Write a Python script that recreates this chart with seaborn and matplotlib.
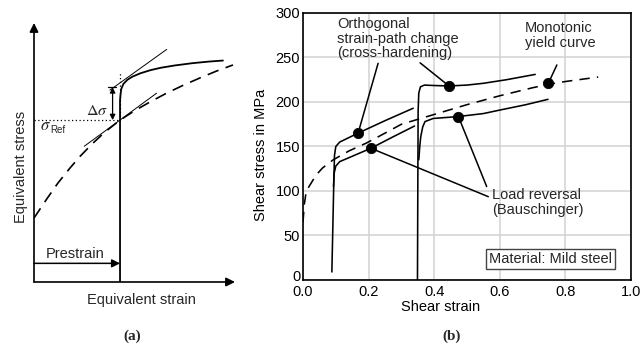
import matplotlib
matplotlib.use('Agg')
import matplotlib.pyplot as plt
import matplotlib.transforms as mtransforms
import seaborn as sns

sns.set_theme(style='whitegrid')
plt.rcParams['font.family'] = ['Liberation Sans', 'DejaVu Sans']
plt.rcParams['mathtext.fontset'] = 'stix'

# ---- panel (a): schematic, axes-fraction coordinates ----
mono_a_x = [0.0, 0.063, 0.119, 0.179, 0.229, 0.289, 0.353, 0.428, 0.502, 0.577, 0.657, 0.741, 0.826, 0.910, 0.990]
mono_a_y = [0.247, 0.320, 0.382, 0.440, 0.485, 0.533, 0.579, 0.625, 0.662, 0.695, 0.728, 0.759, 0.788, 0.815, 0.838]
reload_a_x = [0.428, 0.428, 0.430, 0.434, 0.445, 0.465, 0.49, 0.53, 0.58, 0.63, 0.70, 0.79, 0.87, 0.94]
reload_a_y = [0.0, 0.70, 0.72, 0.745, 0.765, 0.781, 0.793, 0.806, 0.818, 0.827, 0.836, 0.845, 0.851, 0.855]
prestrain_a = 0.428
sigma_ref_a = 0.625
sigma_top_a = 0.752

# ---- panel (b): shear stress vs shear strain ----
mono_x = [0.0, 0.004, 0.01, 0.02, 0.04, 0.06, 0.092, 0.14, 0.194, 0.25, 0.3, 0.4, 0.5, 0.6, 0.7, 0.75, 0.8, 0.9]
mono_y = [65, 85, 100, 106, 118, 126, 135, 145, 154, 165, 175, 186, 197, 207, 216, 220, 223, 228]

cross1_x = [0.088, 0.091, 0.094, 0.096, 0.1, 0.112, 0.168, 0.25, 0.336]
cross1_y = [9, 60, 112, 140, 150, 155, 165, 179, 193]
rev1_x = [0.093, 0.095, 0.1, 0.112, 0.15, 0.207, 0.27, 0.34]
rev1_y = [105, 120, 128, 133, 139, 148, 160, 173]

cross2_x = [0.349, 0.35, 0.351, 0.353, 0.358, 0.37, 0.4, 0.445, 0.5, 0.55, 0.62, 0.708]
cross2_y = [0, 100, 190, 210, 217, 219, 218.5, 218, 219, 221, 225, 231]
rev2_x = [0.353, 0.356, 0.359, 0.365, 0.372, 0.397, 0.47, 0.55, 0.601, 0.68, 0.747]
rev2_y = [135, 150, 161, 172, 178, 181.5, 183.5, 187, 191, 197, 203]

marker_x = [0.168, 0.207, 0.445, 0.474, 0.748]
marker_y = [165, 148, 218, 183.5, 221]

fig = plt.figure(figsize=(6.44, 3.51), dpi=100)
ax_a = fig.add_axes([0.0528, 0.1966, 0.3121, 0.7379])
ax_b = fig.add_axes([0.4705, 0.2023, 0.5093, 0.7607])

# ---------- (a) ----------
ax_a.set_xlim(0, 1)
ax_a.set_ylim(0, 1)
ax_a.axis('off')
arrow = dict(arrowstyle='-|>', mutation_scale=13, color='black', lw=1.2, shrinkA=0, shrinkB=0)
ax_a.annotate('', xy=(1.0, 0), xytext=(0, 0), arrowprops=arrow, annotation_clip=False)
ax_a.annotate('', xy=(0, 1.0), xytext=(0, 0), arrowprops=arrow, annotation_clip=False)

sns.lineplot(x=mono_a_x, y=mono_a_y, sort=False, estimator=None, color='black', lw=1.2,
             linestyle=(0, (7, 4.5)), ax=ax_a)
sns.lineplot(x=reload_a_x, y=reload_a_y, sort=False, estimator=None, color='black', lw=1.3, ax=ax_a)

# tangents
ax_a.plot([0.25, 0.61], [0.524, 0.729], color='black', lw=0.7)
ax_a.plot([0.378, 0.66], [0.741, 0.898], color='black', lw=0.7)
# dotted reference lines
ax_a.plot([0, prestrain_a], [sigma_ref_a, sigma_ref_a], color='black', lw=0.9, linestyle=(0, (1, 2)))
ax_a.plot([prestrain_a, prestrain_a], [sigma_ref_a, 0.81], color='black', lw=0.9, linestyle=(0, (1, 2)))
# delta sigma
ax_a.annotate('', xy=(0.391, sigma_ref_a), xytext=(0.391, sigma_top_a),
              arrowprops=dict(arrowstyle='<|-|>', mutation_scale=8, color='black', lw=0.9,
                              shrinkA=0, shrinkB=0))
ax_a.plot([0.37, 0.41], [sigma_top_a, sigma_top_a], color='black', lw=0.9)
ax_a.text(0.315, 0.662, r'$\Delta\sigma$', fontsize=11.5, ha='center', va='center')
ax_a.text(0.03, 0.605, r'$\sigma$', fontsize=12, ha='left', va='center')
ax_a.text(0.082, 0.588, 'Ref', fontsize=7, ha='left', va='center')
# prestrain arrow
ax_a.annotate('', xy=(prestrain_a, 0.072), xytext=(0, 0.072),
              arrowprops=dict(arrowstyle='-|>', mutation_scale=12, color='black', lw=1.1,
                              shrinkA=0, shrinkB=0))
ax_a.text(0.204, 0.11, 'Prestrain', fontsize=10.5, ha='center', va='center')
ax_a.text(-0.065, 0.445, 'Equivalent stress', fontsize=10.5, rotation=90, ha='center', va='center')
ax_a.text(0.536, -0.069, 'Equivalent strain', fontsize=10.5, ha='center', va='center')

# ---------- (b) ----------
line_kw = dict(sort=False, estimator=None, color='black', lw=1.15, ax=ax_b)
sns.lineplot(x=mono_x, y=mono_y, linestyle=(0, (6.5, 4.5)), **line_kw)
sns.lineplot(x=cross1_x, y=cross1_y, **line_kw)
sns.lineplot(x=rev1_x, y=rev1_y, **line_kw)
sns.lineplot(x=cross2_x, y=cross2_y, **line_kw)
sns.lineplot(x=rev2_x, y=rev2_y, **line_kw)
sns.scatterplot(x=marker_x, y=marker_y, s=55, color='black', edgecolor='black', zorder=5, ax=ax_b)

ax_b.set_xlim(0, 1)
ax_b.set_ylim(0, 300)
ax_b.set_xticks([0.0, 0.2, 0.4, 0.6, 0.8, 1.0])
ax_b.set_yticks([0, 50, 100, 150, 200, 250, 300])
ax_b.grid(True, color='#d2d2d2', lw=1.1)
for sp in ax_b.spines.values():
    sp.set_color('black')
    sp.set_linewidth(1.2)
ax_b.tick_params(length=0, labelsize=10.5, labelcolor='black')
ax_b.tick_params(axis='x', pad=3.5)
ax_b.tick_params(axis='y', pad=2)
# lift the "0" label a little so it clears the "0.0" below it
zero_lbl = ax_b.get_yticklabels()[0]
zero_lbl.set_transform(zero_lbl.get_transform() +
                       mtransforms.ScaledTranslation(0, 3 / 72, fig.dpi_scale_trans))
ax_b.set_xlabel('Shear strain', fontsize=10.5, color='black')
ax_b.set_ylabel('Shear stress in MPa', fontsize=10.5, color='black')
ax_b.xaxis.set_label_coords(0.42, -0.1)
ax_b.xaxis.label.set_verticalalignment('center')
ax_b.yaxis.set_label_coords(-0.127, 0.47)
ax_b.yaxis.label.set_verticalalignment('center')

lead = dict(arrowstyle='-', color='black', lw=1.1, shrinkA=0, shrinkB=0)
ax_b.text(0.105, 271, 'Orthogonal\nstrain-path change\n(cross-hardening)', fontsize=10.5,
          ha='left', va='center', linespacing=1.05)
ax_b.annotate('', xy=(0.168, 165), xytext=(0.229, 243.5), arrowprops=lead)
ax_b.annotate('', xy=(0.445, 218), xytext=(0.357, 244), arrowprops=lead)

ax_b.text(0.677, 275, 'Monotonic\nyield curve', fontsize=10.5, ha='left', va='center', linespacing=1.05)
ax_b.annotate('', xy=(0.748, 221), xytext=(0.774, 241.6), arrowprops=lead)

ax_b.text(0.576, 87, 'Load reversal\n(Bauschinger)', fontsize=10.5, ha='left', va='center', linespacing=1.05)
ax_b.annotate('', xy=(0.474, 183.5), xytext=(0.560, 105), arrowprops=lead)
ax_b.annotate('', xy=(0.207, 148), xytext=(0.565, 93.6), arrowprops=lead)

ax_b.text(0.754, 23.4, 'Material: Mild steel', fontsize=10.5, ha='center', va='center',
          bbox=dict(boxstyle='square,pad=0.2', facecolor='white', edgecolor='#444444', lw=1.0))

fig.text(0.2045, 0.043, '(a)', fontsize=11, fontweight='bold', family='Liberation Serif',
         ha='center', va='center')
fig.text(0.7015, 0.043, '(b)', fontsize=11, fontweight='bold', family='Liberation Serif',
         ha='center', va='center')

fig.savefig('out.png', dpi=100)
